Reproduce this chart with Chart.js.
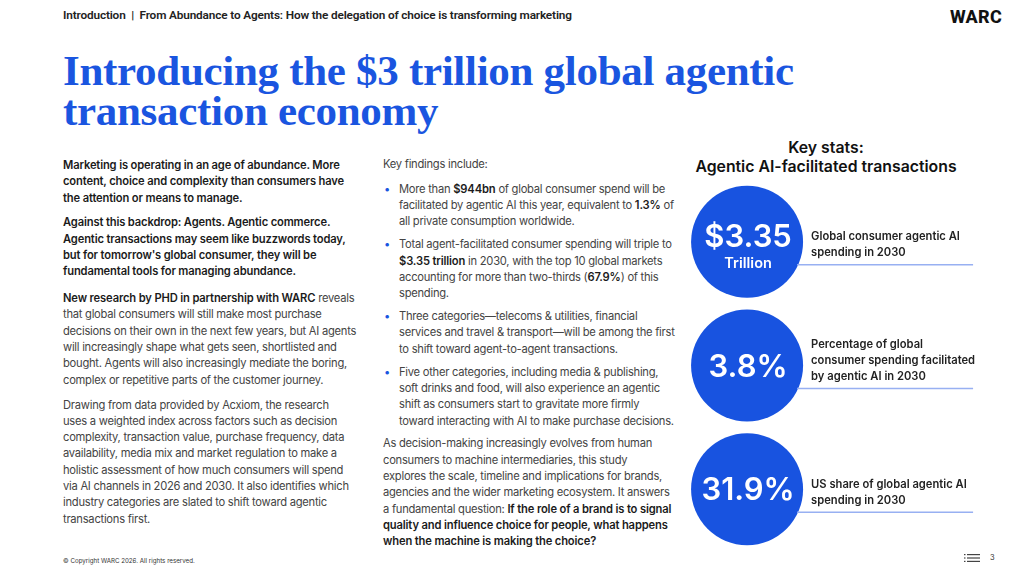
<!DOCTYPE html>
<html>
<head>
<meta charset="utf-8">
<script src="https://cdn.jsdelivr.net/npm/chart.js@4.4.1/dist/chart.umd.min.js"></script>
<style>
  html, body { margin: 0; padding: 0; background: #fff; }
  body { width: 1024px; height: 573px; position: relative; overflow: hidden; font-family: Inter, "Noto Sans", sans-serif; color: #444; }
  .abs { position: absolute; }
  #crumb { left: 63px; top: 8px; font: 600 11.8px Roboto, sans-serif; color: #222; letter-spacing: -0.15px; white-space: nowrap; }
  #logo { left: 950px; top: 6px; font: 800 18px Roboto, sans-serif; color: #111; letter-spacing: 0.3px; }
  #title { left: 63px; top: 51px; font: bold 43px "Liberation Serif", serif; color: #1a55e0; line-height: 40px; letter-spacing: -0.3px; white-space: nowrap; }
  .col { font-size: 11.2px; line-height: 16.3px; letter-spacing: -0.26px; white-space: nowrap; }
  .col p { margin: 0 0 8.6px 0; }
  .col b { color: #1b1b1b; font-weight: 600; letter-spacing: -0.15px; }
  .dark { color: #1b1b1b; font-weight: 600; letter-spacing: -0.15px; }
  #left { left: 63px; top: 157px; }
  #left p.gap { margin-bottom: 10.5px; }
  #mid { left: 383px; top: 156px; }
  #mid ul { list-style: none; padding: 0; margin: 0 0 6.6px 0; }
  #mid li { position: relative; padding-left: 16px; margin-bottom: 6.6px; }
  #mid li:before { content: "\2022"; position: absolute; left: 1px; top: 0; color: #1a55e0; }
  #keyhead { left: 680px; top: 138px; width: 292px; text-align: center; font: 600 15.8px Inter, sans-serif; color: #111; line-height: 19px; }
  #copy { left: 63px; top: 557px; font: 6.2px Inter, sans-serif; color: #333; white-space: nowrap; }
  #page { left: 990px; top: 553px; font: 7.5px Inter, sans-serif; color: #333; }
  #icon { left: 964px; top: 554px; width: 16px; height: 8px; }
  #stats { left: 680px; top: 180px; }
</style>
</head>
<body>
<div id="crumb" class="abs">Introduction &nbsp;|&nbsp; From Abundance to Agents: How the delegation of choice is transforming marketing</div>
<div id="logo" class="abs">WARC</div>
<div id="title" class="abs">Introducing the $3 trillion global agentic<br>transaction economy</div>

<div id="left" class="abs col">
  <p class="dark">Marketing is operating in an age of abundance. More<br>content, choice and complexity than consumers have<br>the attention or means to manage.</p>
  <p class="dark gap">Against this backdrop: Agents. Agentic commerce.<br>Agentic transactions may seem like buzzwords today,<br>but for tomorrow's global consumer, they will be<br>fundamental tools for managing abundance.</p>
  <p><b>New research by PHD in partnership with WARC</b> reveals<br>that global consumers will still make most purchase<br>decisions on their own in the next few years, but AI agents<br>will increasingly shape what gets seen, shortlisted and<br>bought. Agents will also increasingly mediate the boring,<br>complex or repetitive parts of the customer journey.</p>
  <p>Drawing from data provided by Acxiom, the research<br>uses a weighted index across factors such as decision<br>complexity, transaction value, purchase frequency, data<br>availability, media mix and market regulation to make a<br>holistic assessment of how much consumers will spend<br>via AI channels in 2026 and 2030. It also identifies which<br>industry categories are slated to shift toward agentic<br>transactions first.</p>
</div>

<div id="mid" class="abs col">
  <p>Key findings include:</p>
  <ul>
    <li>More than <b>$944bn</b> of global consumer spend will be<br>facilitated by agentic AI this year, equivalent to <b>1.3%</b> of<br>all private consumption worldwide.</li>
    <li>Total agent-facilitated consumer spending will triple to<br><b>$3.35 trillion</b> in 2030, with the top 10 global markets<br>accounting for more than two-thirds (<b>67.9%</b>) of this<br>spending.</li>
    <li>Three categories—telecoms &amp; utilities, financial<br>services and travel &amp; transport—will be among the first<br>to shift toward agent-to-agent transactions.</li>
    <li>Five other categories, including media &amp; publishing,<br>soft drinks and food, will also experience an agentic<br>shift as consumers start to gravitate more firmly<br>toward interacting with AI to make purchase decisions.</li>
  </ul>
  <p>As decision-making increasingly evolves from human<br>consumers to machine intermediaries, this study<br>explores the scale, timeline and implications for brands,<br>agencies and the wider marketing ecosystem. It answers<br>a fundamental question: <b>If the role of a brand is to signal<br>quality and influence choice for people, what happens<br>when the machine is making the choice?</b></p>
</div>

<div id="keyhead" class="abs">Key stats:<br>Agentic AI-facilitated transactions</div>
<canvas id="stats" class="abs" width="344" height="371"></canvas>

<div id="copy" class="abs">© Copyright WARC 2026. All rights reserved.</div>
<svg id="icon" class="abs" viewBox="0 0 16 8"><g fill="#444"><rect x="0" y="0" width="1.5" height="1.2"/><rect x="0" y="3.4" width="1.5" height="1.2"/><rect x="0" y="6.8" width="1.5" height="1.2"/><rect x="3" y="0" width="13" height="1.2"/><rect x="3" y="3.4" width="13" height="1.2"/><rect x="3" y="6.8" width="13" height="1.2"/></g></svg>
<div id="page" class="abs">3</div>

<script>
// key stats
const statNumbers = [3.35, 3.8, 31.9];
const statValues = ['$3.35', '3.8%', '31.9%'];
const statUnits = ['Trillion', '', ''];
const statLabels = [
  ['Global consumer agentic AI', 'spending in 2030'],
  ['Percentage of global', 'consumer spending facilitated', 'by agentic AI in 2030'],
  ['US share of global agentic AI', 'spending in 2030']
];

const blue = '#1853e0';

const statText = {
  id: 'statText',
  afterDatasetsDraw(chart) {
    const c = chart.ctx;
    const pts = chart.getDatasetMeta(0).data;
    pts.forEach((p, i) => {
      // rule under description
      const ruleY = p.y + 23;
      c.save();
      c.strokeStyle = '#98b0f2';
      c.lineWidth = 1.5;
      c.beginPath();
      c.moveTo(p.x + 50, ruleY);
      c.lineTo(p.x + 226, ruleY);
      c.stroke();

      // description
      c.fillStyle = '#222';
      c.font = '600 11.2px Inter, sans-serif';
      c.textBaseline = 'middle';
      c.textAlign = 'left';
      const lines = statLabels[i];
      lines.forEach((t, j) => {
        c.fillText(t, p.x + 64, ruleY - 12 - (lines.length - 1 - j) * 16);
      });

      // value in circle
      c.fillStyle = '#fff';
      c.textAlign = 'center';
      c.font = '600 31px Inter, sans-serif';
      if (statUnits[i]) {
        c.fillText(statValues[i], p.x + 1, p.y - 4);
        c.font = '600 14.5px Inter, sans-serif';
        c.fillText(statUnits[i], p.x + 1, p.y + 22);
      } else {
        c.fillText(statValues[i], p.x + 1, p.y + 2);
      }
      c.restore();
    });
  }
};

new Chart(document.getElementById('stats').getContext('2d'), {
  type: 'scatter',
  data: {
    labels: statValues,
    datasets: [{
      data: statNumbers.map((v, i) => ({ x: 0, y: i, v: v })),
      pointRadius: 56,
      pointHoverRadius: 56,
      backgroundColor: blue,
      borderWidth: 0,
      clip: false
    }]
  },
  options: {
    responsive: false,
    animation: false,
    events: [],
    layout: { padding: 0, autoPadding: false },
    plugins: { legend: { display: false }, tooltip: { enabled: false } },
    scales: {
      x: { display: false, min: -0.195, max: 0.805 },
      y: { display: false, min: -0.5, max: 2.5, reverse: true }
    }
  },
  plugins: [statText]
});
</script>
</body>
</html>
